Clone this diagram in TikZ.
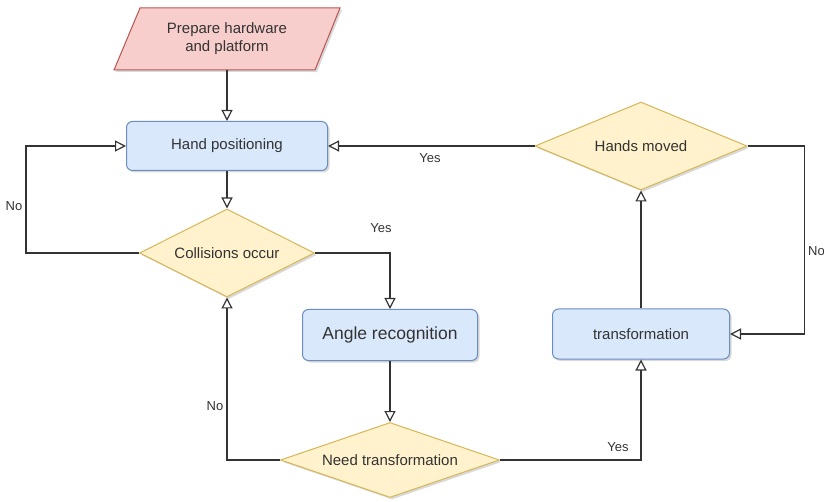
\documentclass[tikz,border=0pt]{standalone}
\usepackage{fontspec}
\setmainfont{Liberation Sans}
\usetikzlibrary{arrows.meta,shapes.geometric,shadows}
\definecolor{redfill}{HTML}{F8CECC}
\definecolor{redline}{HTML}{B85450}
\definecolor{bluefill}{HTML}{DAE8FC}
\definecolor{blueline}{HTML}{6C8EBF}
\definecolor{yelfill}{HTML}{FFF2CC}
\definecolor{yelline}{HTML}{D6B656}
\definecolor{txt}{HTML}{333333}
\definecolor{ln}{HTML}{333333}
\begin{document}
\begin{tikzpicture}[x=1pt,y=-1pt,
  shad/.style={drop shadow={shadow xshift=2pt,shadow yshift=-2pt,fill=black,opacity=0.15}},
  procbox/.style={rectangle,rounded corners=6pt,draw=blueline,fill=bluefill,line width=1pt,text=txt,font=\fontsize{15}{18}\selectfont,inner sep=0pt,shad},
  decision/.style={diamond,draw=yelline,fill=yelfill,line width=1pt,text=txt,font=\fontsize{15}{18}\selectfont,inner sep=0pt,shad},
  flow/.style={draw=ln,line width=1.2pt,-{Triangle[open,length=11pt,width=11pt]}},
  lbl/.style={text=txt,font=\fontsize{13}{15}\selectfont,inner sep=0pt}
]
\useasboundingbox (0,0) rectangle (824,502);
\fill[white] (0,0) rectangle (824,502);

% start parallelogram
\path[fill=redfill,draw=redline,line width=1pt,shad] (140,8) -- (340,8) -- (315,70) -- (114,70) -- cycle;
\node[align=center,text=txt,font=\fontsize{15}{18}\selectfont,minimum width=201pt,minimum height=62pt,inner sep=0pt] (prep) at (227,39) {Prepare hardware\\and platform};

\node[procbox,minimum width=201pt,minimum height=49pt] (hp) at (227,146) {Hand positioning};
\node[decision,aspect=2,minimum width=175pt,minimum height=88pt] (col) at (227,253) {Collisions occur};
\node[procbox,minimum width=175pt,minimum height=51pt,font=\fontsize{17.5}{21}\selectfont] (ang) at (390,335) {Angle recognition};
\node[decision,aspect=2.9,minimum width=219pt,minimum height=75pt] (need) at (390,460) {Need transformation};
\node[procbox,minimum width=177pt,minimum height=50pt] (tr) at (641,334) {transformation};
\node[decision,aspect=2.4,minimum width=212pt,minimum height=88pt] (hm) at (641,146) {Hands moved};

\draw[flow] (prep.south) -- (hp.north);
\draw[flow] (hp.south) -- (col.north);
\draw[flow] (col.west) -- ++(-113,0) |- (hp.west);
\draw[flow] (col.east) -| (ang.north);
\draw[flow] (ang.south) -- (need.north);
\draw[flow] (need.west) -| (col.south);
\draw[flow] (need.east) -| (tr.south);
\draw[flow] (tr.north) -- (hm.south);
\draw[flow] (hm.east) -- ++(57,0) |- (tr.east);
\draw[flow] (hm.west) -- (hp.east);

\node[lbl] (l1) at (14,206) {No};
\node[lbl] (l2) at (381,228) {Yes};
\node[lbl] (l3) at (215,406) {No};
\node[lbl] (l4) at (618,447) {Yes};
\node[lbl,anchor=west] (l5) at (808,251) {No};
\node[lbl] (l6) at (430,158) {Yes};
\end{tikzpicture}
\end{document}
